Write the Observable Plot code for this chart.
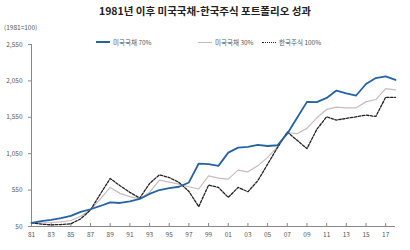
<!DOCTYPE html>
<html><head><meta charset="utf-8">
<script src="https://cdn.jsdelivr.net/npm/d3@7"></script>
<script src="https://cdn.jsdelivr.net/npm/@observablehq/plot@0.6"></script>
<style>
body{margin:0;background:#fff;font-family:"Noto Sans CJK KR","Noto Sans",sans-serif;}
#wrap{position:relative;width:410px;height:250px;overflow:hidden;}
#title{position:absolute;left:0;top:4px;width:410px;text-align:center;font-size:10.5px;font-weight:bold;color:#222;line-height:14px;}
#unit{position:absolute;left:4px;top:23px;font-size:6.5px;color:#555;line-height:9px;}
.leg{position:absolute;top:37px;font-size:6.5px;color:#555;line-height:10px;white-space:nowrap;display:flex;align-items:center;}
.sw{display:inline-block;width:14px;height:0;margin-right:3px;}
#chart{position:absolute;left:0;top:0;}
</style></head>
<body><div id="wrap">
<div id="chart"></div>
<div id="title">1981년 이후 미국국채-한국주식 포트폴리오 성과</div>
<div id="unit">(1981=100)</div>
<div class="leg" style="left:96px"><span class="sw" style="border-top:2px solid #2463a6"></span>미국국채 70%</div>
<div class="leg" style="left:198px"><span class="sw" style="border-top:1.3px solid #cdb9bd"></span>미국국채 30%</div>
<div class="leg" style="left:262px"><span class="sw" style="border-top:1.5px dotted #222"></span>한국주식 100%</div>
</div>
<script>
const years = [1981,1982,1983,1984,1985,1986,1987,1988,1989,1990,1991,1992,1993,1994,1995,1996,1997,1998,1999,2000,2001,2002,2003,2004,2005,2006,2007,2008,2009,2010,2011,2012,2013,2014,2015,2016,2017,2018];
const bond70 = [100,123,141,164,196,251,287,332,382,373,396,428,497,551,578,596,655,915,906,883,1065,1133,1143,1170,1156,1166,1325,1543,1762,1758,1816,1917,1880,1849,2007,2089,2113,2063];
const bond30 = [100,100,105,114,132,191,278,428,587,505,460,428,519,688,660,633,596,565,746,714,701,824,801,883,1000,1140,1338,1325,1398,1543,1658,1689,1680,1680,1762,1794,1944,1926];
const stock100 = [100,82,73,77,87,155,278,497,710,610,519,440,640,760,723,655,532,323,619,587,450,587,528,678,906,1133,1348,1234,1120,1384,1557,1512,1535,1557,1580,1562,1825,1825];
const yTicks = [50,550,1050,1550,2050,2550];
const xTicks = [1981,1983,1985,1987,1989,1991,1993,1995,1997,1999,2001,2003,2005,2007,2009,2011,2013,2015,2017];

const toRows = vals => years.map((year, i) => ({year, value: vals[i]}));

const chart = Plot.plot({
  width: 410, height: 250,
  marginTop: 44, marginBottom: 24, marginLeft: 31, marginRight: 15,
  style: {fontFamily: '"Noto Sans CJK KR","Noto Sans",sans-serif', fontSize: "6.5px", color: "#555", background: "transparent"},
  x: {domain: [1981, 2018]},
  y: {domain: [50, 2550]},
  marks: [
    Plot.axisY({ticks: yTicks, tickFormat: d3.format(","), tickSize: 3, tickPadding: 6, label: null, stroke: "#888"}),
    Plot.axisX({ticks: xTicks, tickFormat: d => String(d).slice(2), tickSize: -3, tickPadding: 9, label: null, stroke: "#888"}),
    Plot.ruleX([1981], {stroke: "#888"}),
    Plot.ruleY([50], {stroke: "#888"}),
    Plot.line(toRows(bond30), {x: "year", y: "value", stroke: "#cdb9bd", strokeWidth: 1.2}),
    Plot.line(toRows(stock100), {x: "year", y: "value", stroke: "#222", strokeWidth: 1.3, strokeDasharray: "2.5,1.5"}),
    Plot.line(toRows(bond70), {x: "year", y: "value", stroke: "#2463a6", strokeWidth: 1.8})
  ]
});
document.getElementById("chart").appendChild(chart);
</script>
</body></html>
